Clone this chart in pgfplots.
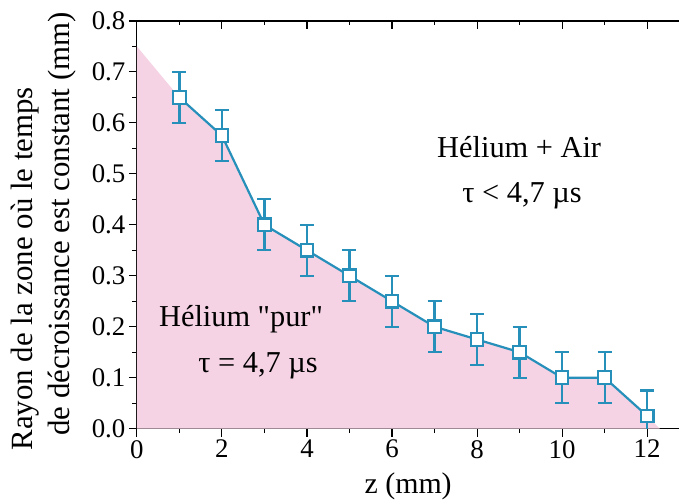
\documentclass[border=0pt]{standalone}
\usepackage{pgfplots}
\pgfplotsset{compat=1.18}
\usepackage{fontspec}
\setmainfont{Liberation Serif}
\newfontfamily\nolig{Liberation Serif}
\definecolor{lineblue}{RGB}{38,143,186}
\definecolor{pinkfill}{RGB}{245,211,228}
\begin{document}
\begin{tikzpicture}
\begin{axis}[
  scale only axis, width=543bp, height=408bp,
  xmin=0, xmax=12.76, ymin=0, ymax=0.8,
  axis lines=left, axis line style={-, line width=1.1pt},
  tick align=outside, tick style={line width=1.1pt, black},
  major tick length=8bp, minor tick length=4.5bp,
  xtick={0,2,...,12}, minor xtick={1,3,...,11},
  ytick={0,0.1,...,0.8}, minor ytick={0.05,0.15,...,0.75},
  yticklabel style={/pgf/number format/.cd, fixed, fixed zerofill, precision=1},
  /pgf/number format/assume math mode=true,
  tick label style={font=\fontsize{27}{30}\selectfont},
  xlabel={z (mm)},
  xlabel style={font=\fontsize{30}{33}\selectfont, at={(axis description cs:0.5,-0.142)}, anchor=center},
  ylabel={\begin{tabular}{@{}l@{}}Rayon de la zone où le temps\\[2bp]\hspace*{15bp}de décroissance est constant (mm)\end{tabular}},
  ylabel style={font=\fontsize{31}{35}\selectfont, at={(axis description cs:-0.171,0.484)}, anchor=center},
]
\addplot[fill=pinkfill, draw=none] coordinates {
 (0,0) (0,0.75) (1,0.65) (2,0.575) (3,0.40) (4,0.35) (5,0.30) (6,0.25) (7,0.20) (8,0.175) (9,0.15) (10,0.10) (11,0.10) (12,0.025) (12.3,0)
} -- cycle;
\addplot[lineblue, line width=2.2bp, mark=square*, mark size=6.3bp,
  mark options={fill=white, draw=lineblue, line width=2.2bp},
  error bars/.cd, y dir=both, y explicit,
  error bar style={line width=2.2bp, lineblue},
  error mark options={rotate=90, mark size=7bp, line width=2.2bp, lineblue}]
coordinates {
 (1,0.65) +- (0,0.05)
 (2,0.575) +- (0,0.05)
 (3,0.40) +- (0,0.05)
 (4,0.35) +- (0,0.05)
 (5,0.30) +- (0,0.05)
 (6,0.25) +- (0,0.05)
 (7,0.20) +- (0,0.05)
 (8,0.175) +- (0,0.05)
 (9,0.15) +- (0,0.05)
 (10,0.10) +- (0,0.05)
 (11,0.10) +- (0,0.05)
 (12,0.025) +- (0,0.05)
};
\node[font=\fontsize{30.5}{33}\selectfont, anchor=base] at (axis cs:8.99,0.533) {Hélium + Air};
\node[font=\fontsize{30.5}{33}\selectfont, anchor=base] at (axis cs:9.06,0.443) {τ < 4,7 µs};
\node[font=\fontsize{30.5}{33}\selectfont\nolig, anchor=base] at (axis cs:2.45,0.20) {Hélium "pur"};
\node[font=\fontsize{30.5}{33}\selectfont, anchor=base] at (axis cs:2.85,0.11) {τ = 4,7 µs};
\end{axis}
\begin{axis}[
  scale only axis, width=543bp, height=408bp,
  xmin=0, xmax=12.76, ymin=0, ymax=0.8,
  axis x line=top, axis y line=none, axis line style={-, line width=1.1pt},
  tick align=inside, tick style={line width=1.1pt, black},
  major tick length=8bp, minor tick length=4.5bp,
  xtick={0,2,...,12}, minor xtick={1,3,...,11},
  xticklabels={}, ytick=\empty, clip=false,
]
\path (rel axis cs:0,1) ++(-137bp,21bp) coordinate (bbtl);
\path (rel axis cs:0,0) ++(-137bp,-74bp) coordinate (bbbl);
\path (bbtl) -- (bbbl);
\end{axis}
\end{tikzpicture}
\end{document}
